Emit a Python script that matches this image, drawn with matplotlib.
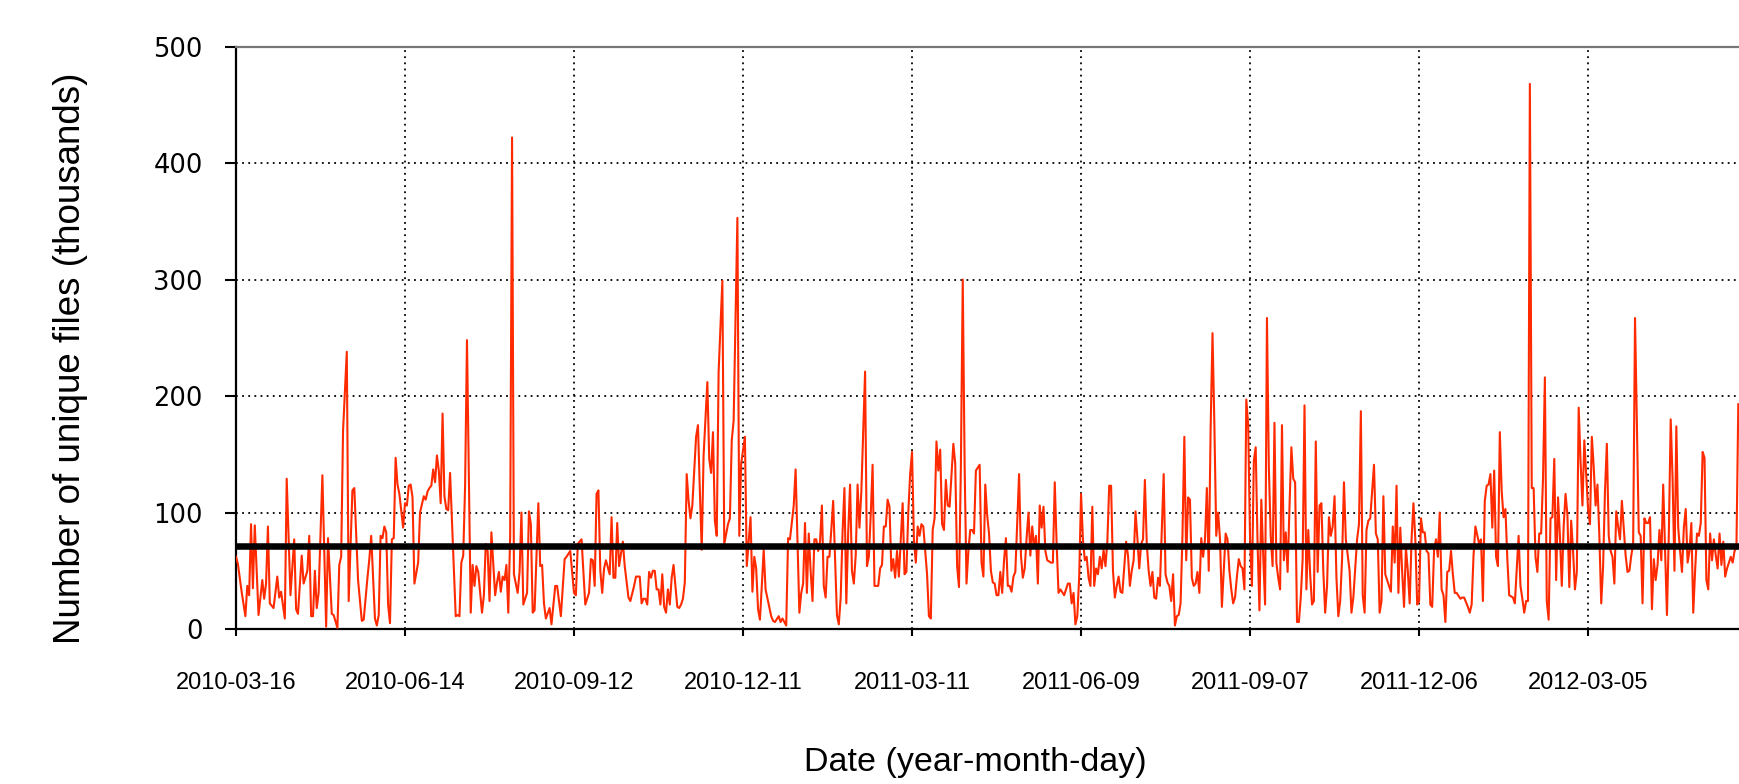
import matplotlib
matplotlib.use('Agg')
import matplotlib.pyplot as plt
import matplotlib.dates as mdates
import pandas as pd

plt.rcParams['font.family'] = ['Liberation Sans', 'DejaVu Sans']

# Data: days since 2010-03-16 and unique files (thousands)
start_date = '2010-03-16'
day_offset = [
    0, 1, 3, 5, 6, 7, 8, 9, 10, 11, 12, 14, 15, 16, 17, 18, 20, 22, 23, 24, 26, 27, 29, 31, 32, 33, 35, 36, 38, 39,
    40, 41, 42, 43, 44, 46, 48, 49, 51, 52, 54, 55, 56, 57, 59, 60, 62, 63, 65, 67, 68, 70, 71, 72, 74, 75, 76, 77,
    78, 79, 80, 81, 82, 83, 84, 85, 86, 87, 89, 90, 91, 92, 93, 94, 95,
    97, 98, 100, 101, 102, 103, 104, 105, 106, 107, 108, 109, 110, 111, 112, 113, 114, 117, 118, 119, 120, 121,
    122, 123, 125, 126, 127, 128, 129, 131, 132, 133, 134, 135, 136, 138, 139, 140, 141, 142, 143, 144, 145, 146,
    147, 148, 150, 151, 152, 153, 155, 156, 157, 158, 159, 161, 162, 163, 164, 165, 167, 168, 170, 171, 173, 175,
    176, 178, 180, 181, 182, 184, 186, 188, 189, 190, 191, 192, 193, 194, 195, 196,
    197, 199, 200, 201, 202, 203, 204, 206, 207, 209, 210, 212, 213, 215, 216, 217, 218, 219, 220, 221, 222, 223,
    224, 225, 226, 227, 228, 229, 230, 231, 232, 233, 235, 236, 237, 238, 239, 240, 241, 242, 243, 245, 246, 247,
    248, 249, 251, 252, 253, 254, 255, 256, 257, 259, 260, 262, 263, 264, 265, 267, 268, 269, 271, 272, 274, 275,
    276, 277, 278, 279, 280, 281, 282, 285, 286, 287, 289, 290, 291, 292, 293,
    294, 295, 297, 298, 300, 301, 302, 303, 304, 305, 306, 307, 308, 309, 310, 311, 312, 313, 314, 315, 316, 317,
    318, 319, 320, 321, 322, 323, 324, 325, 326, 327, 328, 329, 330, 331, 332, 333, 334, 335, 336, 337, 338, 339,
    340, 342, 343, 344, 345, 346, 347, 348, 349, 350, 351, 352, 353, 354, 355, 356, 357, 358, 359, 360, 361, 362,
    363, 364, 365, 366, 368, 369, 370, 371, 372, 373, 374, 375, 376, 377, 378, 379, 380, 382, 383, 384, 385, 386,
    387, 388, 389, 390, 391,
    392, 393, 394, 396, 397, 398, 399, 400, 401, 402, 403, 404, 405, 406, 407, 408, 409, 410, 411, 412, 413, 414,
    415, 416, 417, 418, 419, 420, 421, 422, 423, 424, 425, 426, 427, 428, 429, 430, 431, 432, 434, 435, 436, 437,
    438, 439, 441, 442, 443, 444, 445, 446, 447, 448, 449, 450, 451, 452, 453, 454, 455, 456, 457, 458, 459, 460,
    461, 462, 463, 464, 465, 466, 467, 468, 469, 470, 471, 472, 474, 475, 476, 477, 478, 479, 480, 481, 482, 483,
    484, 485, 486, 487, 488, 489,
    490, 491, 492, 494, 495, 496, 497, 498, 499, 500, 501, 502, 503, 504, 505, 506, 507, 508, 509, 510, 511, 512,
    513, 514, 515, 516, 517, 518, 519, 520, 521, 522, 523, 524, 525, 527, 528, 529, 530, 531, 532, 533, 534, 535,
    536, 537, 538, 539, 540, 541, 542, 543, 544, 545, 546, 547, 548, 549, 550, 551, 552, 553, 554, 555, 556, 557,
    558, 559, 560, 561, 562, 563, 564, 565, 566, 567, 568, 569, 570, 571, 572, 573, 574, 575, 576, 577, 578, 579,
    580, 581, 582, 583, 584, 585, 586, 587, 588, 589, 590,
    591, 593, 594, 595, 597, 598, 599, 600, 601, 602, 603, 604, 606, 607, 608, 609, 610, 611, 612, 614, 615, 616,
    617, 618, 619, 620, 621, 622, 623, 624, 625, 626, 627, 628, 629, 630, 631, 632, 633, 634, 635, 636, 637, 638,
    639, 640, 641, 642, 643, 644, 645, 646, 647, 648, 649, 650, 652, 653, 654, 656, 657, 658, 659, 660, 662, 663,
    664, 665, 666, 667, 668, 669, 670, 671, 672, 673, 674, 675, 676, 677, 678, 680, 681, 683, 684, 685, 686, 687,
    688, 689, 690, 691, 692, 693, 694,
    695, 696, 697, 698, 699, 700, 701, 702, 703, 704, 705, 706, 707, 708, 709, 710, 711, 712, 713, 714, 715, 716,
    717, 718, 720, 721, 722, 723, 724, 725, 726, 727, 728, 729, 730, 731, 732, 733, 734, 735, 736, 737, 738, 740,
    741, 742, 743, 744, 745, 747, 748, 749, 750, 751, 752, 753, 754, 755, 756, 757, 758, 759, 760, 761, 762, 763,
    764, 765, 766, 767, 768, 769, 770, 771, 772, 773, 774, 775, 776, 777, 778, 779, 780, 781, 782, 783, 784, 785,
    786, 787, 788, 789, 790, 791, 792, 793, 794, 796, 797, 798, 799, 800,
]
unique_files_k = [
    62, 56, 32, 11, 37, 29, 90, 35, 89, 50, 12, 42, 26, 39, 88, 22, 18, 45, 27, 32, 9, 129, 29, 77, 17, 13, 63, 39,
    50, 80, 11, 11, 50, 18, 31, 132, 2, 78, 13, 12, 1, 55, 62, 170, 238, 24, 119, 121, 42, 7, 8, 44, 60, 80, 9, 3,
    12, 80, 78, 88, 83, 21, 5, 77, 78, 147, 124, 116, 87, 108, 106, 123, 124, 113, 39,
    57, 100, 114, 111, 118, 121, 123, 137, 126, 149, 136, 108, 185, 114, 103, 102, 134, 11, 12, 11, 57, 63, 123,
    248, 14, 55, 37, 54, 49, 14, 29, 73, 67, 24, 83, 29, 40, 49, 32, 45, 42, 55, 14, 80, 422, 47, 31, 49, 100, 21,
    31, 101, 90, 14, 16, 108, 54, 55, 22, 9, 18, 4, 37, 37, 11, 60, 62, 67, 31, 29, 73, 77, 21, 31, 60, 59, 37,
    116, 119, 50, 31, 52,
    59, 47, 96, 44, 44, 91, 54, 75, 54, 27, 24, 37, 45, 45, 22, 26, 26, 21, 49, 44, 50, 50, 34, 34, 21, 47, 19, 14,
    34, 21, 44, 55, 19, 18, 21, 26, 40, 133, 110, 95, 106, 165, 175, 119, 68, 149, 212, 146, 134, 169, 93, 80,
    221, 299, 73, 90, 95, 162, 179, 353, 80, 142, 165, 54, 96, 32, 62, 52, 17, 8, 37, 68, 34, 11, 7, 6, 11, 6, 9,
    6, 3,
    78, 77, 106, 137, 14, 31, 39, 91, 31, 82, 50, 24, 77, 77, 67, 75, 106, 37, 27, 62, 62, 85, 110, 62, 12, 4, 27,
    83, 121, 22, 83, 124, 50, 39, 63, 124, 87, 118, 169, 221, 54, 62, 98, 141, 37, 37, 52, 55, 88, 88, 111, 105,
    50, 60, 44, 67, 45, 77, 108, 47, 49, 100, 133, 152, 77, 57, 88, 80, 90, 88, 47, 11, 9, 85, 95, 161, 136, 154,
    90, 85, 128, 106, 105, 159, 142, 54, 36, 139, 300, 141, 39, 67, 85,
    85, 82, 136, 141, 57, 45, 124, 98, 82, 50, 40, 39, 29, 29, 49, 31, 59, 78, 37, 37, 32, 45, 49, 90, 133, 63, 44,
    52, 78, 100, 63, 88, 70, 80, 39, 106, 87, 105, 67, 59, 57, 57, 126, 73, 31, 34, 29, 34, 39, 39, 22, 31, 4, 11,
    44, 116, 77, 59, 62, 44, 37, 105, 37, 52, 47, 62, 52, 68, 54, 75, 123, 123, 50, 27, 37, 45, 32, 31, 75, 63, 37,
    50, 59, 101, 78, 52, 73, 77, 128, 73, 50, 37, 49, 27,
    26, 44, 37, 133, 47, 40, 37, 24, 47, 3, 11, 12, 22, 80, 165, 59, 113, 111, 44, 37, 39, 49, 31, 78, 62, 77, 121,
    50, 172, 254, 175, 80, 100, 77, 19, 82, 77, 50, 34, 22, 27, 45, 60, 54, 52, 34, 197, 175, 77, 37, 144, 156, 73,
    16, 111, 63, 21, 267, 139, 80, 54, 177, 57, 44, 34, 175, 59, 83, 49, 105, 156, 129, 126, 6, 6, 27, 60, 192, 34,
    85, 47, 21, 24, 161, 49, 106, 108, 50, 14, 37, 96, 80, 88, 114, 44, 11, 24, 60, 126,
    77, 50, 14, 27, 77, 90, 187, 29, 14, 85, 93, 95, 141, 82, 77, 14, 24, 114, 47, 37, 32, 88, 57, 123, 31, 87, 49,
    19, 70, 50, 22, 77, 108, 77, 21, 24, 95, 83, 83, 67, 65, 21, 19, 68, 77, 62, 100, 34, 29, 6, 49, 50, 67, 47,
    31, 31, 26, 27, 27, 19, 14, 21, 63, 88, 73, 77, 24, 110, 123, 124, 133, 87, 136, 62, 54, 169, 118, 96, 103, 60,
    29, 27, 22, 80, 37, 26, 14, 24, 24, 468, 121, 121, 62, 49, 82,
    82, 129, 216, 24, 8, 95, 96, 146, 42, 113, 80, 37, 88, 116, 98, 36, 93, 67, 34, 49, 190, 144, 106, 162, 103,
    90, 165, 139, 106, 124, 80, 22, 54, 118, 159, 80, 67, 62, 39, 101, 88, 77, 110, 63, 49, 50, 63, 73, 267, 83,
    80, 22, 95, 91, 91, 96, 17, 60, 42, 55, 85, 59, 124, 67, 12, 82, 180, 129, 50, 174, 87, 67, 49, 87, 103, 57,
    67, 91, 14, 50, 82, 80, 91, 152, 147, 42, 34, 82, 59, 77, 63, 52, 82, 55, 75, 45, 52, 62, 57, 67, 70, 193,
]
mean_files_k = 71.5
y_ticks = [0, 100, 200, 300, 400, 500]
tick_every_days = 90
n_date_ticks = 9

assert len(day_offset) == len(unique_files_k)

start = pd.Timestamp(start_date)
dates = start + pd.to_timedelta(day_offset, unit='D')
tick_dates = pd.date_range(start_date, periods=n_date_ticks, freq=f'{tick_every_days}D')

fig = plt.figure(figsize=(17.4, 7.84), dpi=100)
ax = fig.add_axes([236 / 1740, 155 / 784, 1504 / 1740, 582.4 / 784])

ax.plot(dates, unique_files_k, color='#ff2a00', lw=1.5, zorder=3)
ax.axhline(mean_files_k, color='black', lw=4.7, zorder=4)

ax.set_xlim(start, start + pd.Timedelta(days=800.9))
ax.set_ylim(0, 500)
ax.set_yticks(y_ticks)
ax.set_xticks(tick_dates)
ax.xaxis.set_major_formatter(mdates.DateFormatter('%Y-%m-%d'))

# dotted grid like the original
ax.grid(True, color='black', linestyle=(0, (1, 2.4)), lw=1.3)
ax.set_axisbelow(True)

ax.spines['right'].set_visible(False)
ax.spines['left'].set_linewidth(1.6)
ax.spines['bottom'].set_linewidth(1.6)
ax.spines['top'].set_linewidth(1.6)
ax.spines['top'].set_color('#777777')

ax.tick_params(axis='y', direction='out', length=8, width=1.5, pad=16, labelsize=18.5)
ax.tick_params(axis='x', direction='out', length=5, width=1.5, pad=26, labelsize=17)
for lbl in ax.get_yticklabels():
    lbl.set_family(['DejaVu Sans'])

ax.set_xlabel('Date (year-month-day)', fontsize=24.5, va='center')
ax.xaxis.set_label_coords(0.4914, -0.230)
ax.set_ylabel('Number of unique files (thousands)', fontsize=26.5, va='center')
ax.yaxis.set_label_coords(-0.1098, 0.4653)

fig.savefig('out.png', dpi=100)
